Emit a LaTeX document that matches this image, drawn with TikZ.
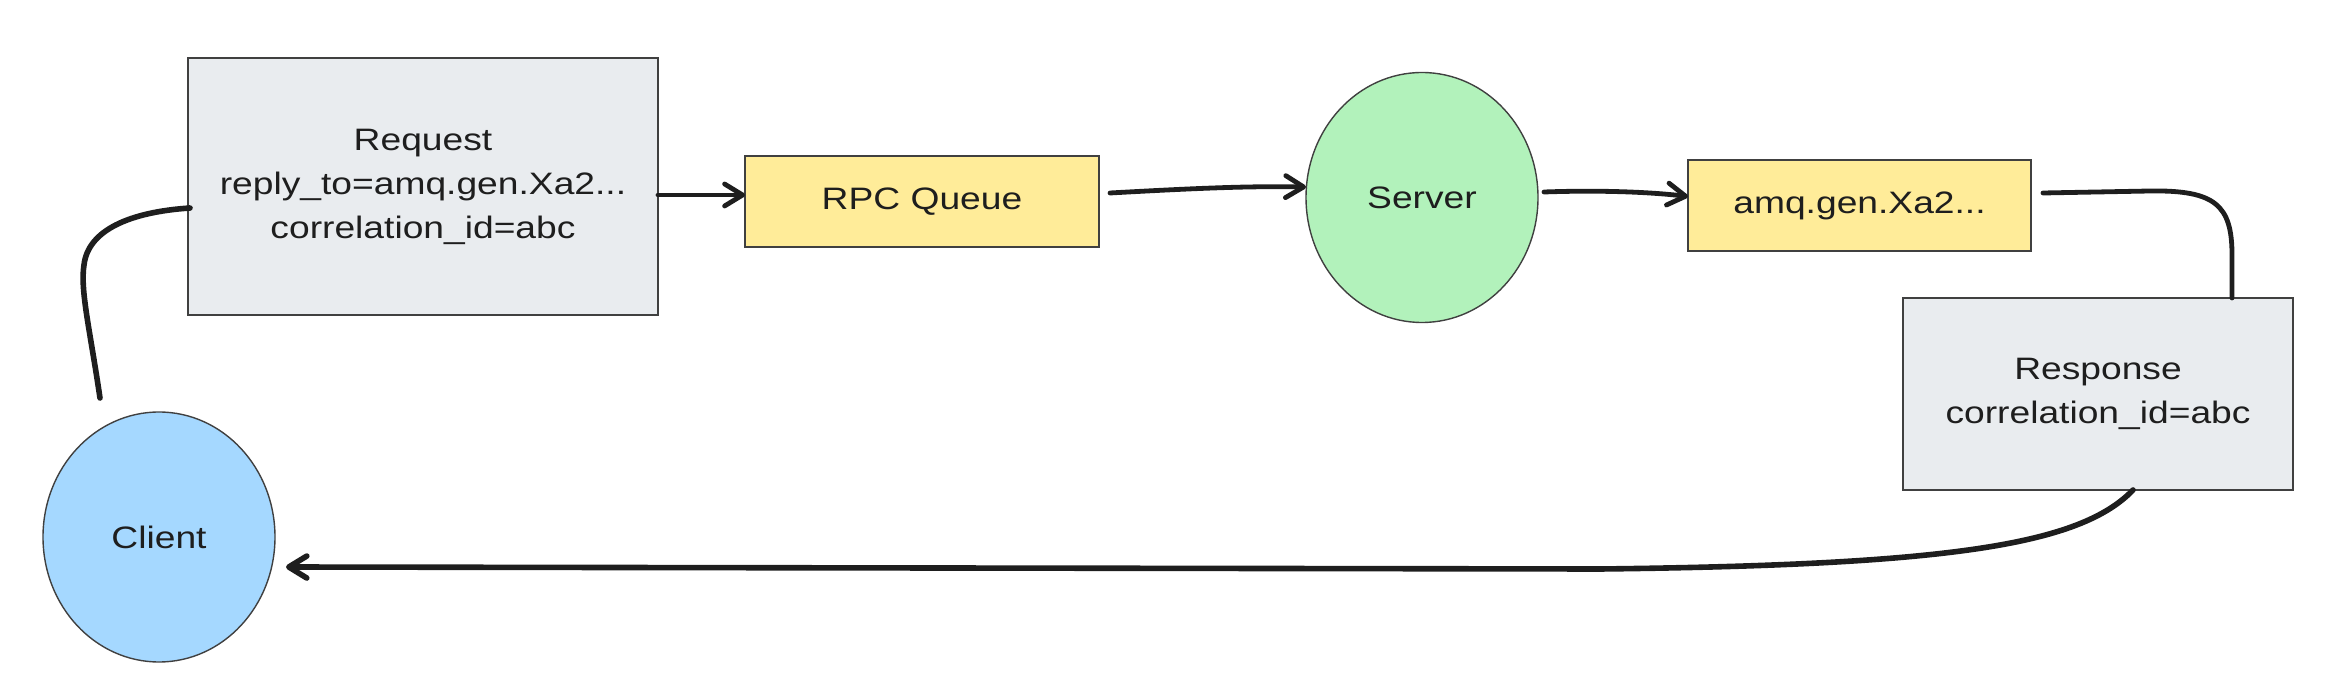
\documentclass[tikz,border=0pt]{standalone}
\usepackage{fontspec}
\setmainfont[FakeStretch=1.2]{Liberation Sans}
\usetikzlibrary{arrows.meta,calc,shapes.geometric}
\definecolor{ink}{HTML}{1E1E1E}
\definecolor{greyfill}{HTML}{E9ECEF}
\definecolor{yellowfill}{HTML}{FFEC99}
\definecolor{greenfill}{HTML}{B2F2BB}
\definecolor{bluefill}{HTML}{A5D8FF}
\tikzset{
  shp/.style={draw=ink!85, line width=0.7pt, inner sep=0pt, outer sep=0pt, align=center,
    font=\fontsize{15.5}{22}\selectfont, text=ink},
  msgbox/.style={shp, rectangle, fill=greyfill},
  queuebox/.style={shp, rectangle, fill=yellowfill},
  actor/.style={shp, ellipse, minimum width=116pt, minimum height=125pt},
  conn/.style={draw=ink, line width=2.4pt, line cap=round, line join=round},
  arr/.style={conn, -{Straight Barb[length=9pt,width=11pt,round]}},
}
\begin{document}
\begin{tikzpicture}[x=0.5pt,y=-0.5pt]
\useasboundingbox (0,0) rectangle (2328,694);
% nodes
\node[msgbox, minimum width=235pt, minimum height=128.5pt] (Request) at (423,186.5)
  {Request\\reply\_to=amq.gen.Xa2...\\correlation\_id=abc};
\node[queuebox, minimum width=177pt, minimum height=45.5pt] (RPC) at (922,201.5) {RPC Queue};
\node[actor, fill=greenfill] (Server) at (1422,197.5) {Server};
\node[queuebox, minimum width=171.5pt, minimum height=45.5pt] (amq) at (1859.5,205.5) {amq.gen.Xa2...};
\node[msgbox, minimum width=195pt, minimum height=96pt] (Response) at (2098,394)
  {Response\\correlation\_id=abc};
\node[actor, fill=bluefill] (Client) at (159,537) {Client};
% connectors
\draw[arr] ($(Request.east)+(0,8.5)$) -- ($(RPC.west)+(0,-6.5)$);
\draw[arr] ($(RPC.east)+(11,-8.5)$) .. controls (1200,188) and (1250,186) .. ($(Server.west)+(0,-10.5)$);
\draw[arr] ($(Server.east)+(6,-5.5)$) .. controls (1600,190) and (1650,192) .. ($(amq.west)+(0,-9)$);
\draw[conn] ($(amq.east)+(12,-12.5)$) -- (2150,191) .. controls (2215,190) and (2232,205) .. (2232,255) -- ($(Response.north)+(134,0)$);
\draw[arr, line width=2.8pt] ($(Response.south)+(35,0)$) .. controls (2080,545) and (1950,565) .. (1600,569) -- ($(Client.east)+(11,30)$);
\draw[conn, line width=2.8pt] ($(Client.north)+(-59,-14)$) .. controls (90,330) and (80,290) .. (84,265) .. controls (88,230) and (130,212) .. ($(Request.west)+(2,21.5)$);
\end{tikzpicture}
\end{document}
